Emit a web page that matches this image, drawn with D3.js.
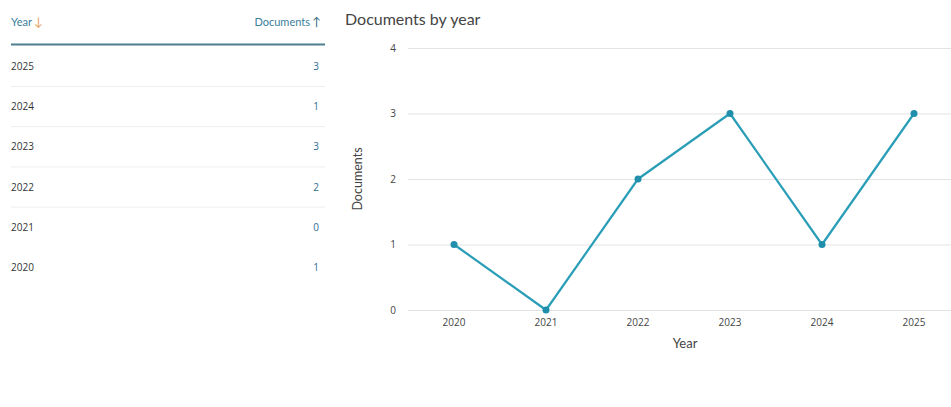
<!DOCTYPE html>
<html>
<head>
<meta charset="utf-8">
<script src="https://cdn.jsdelivr.net/npm/d3@7"></script>
<style>
  body { margin: 0; background: #fff; font-family: "Open Sans", sans-serif; }
  #wrap { position: relative; width: 951px; height: 407px; overflow: hidden; }
  svg { position: absolute; left: 0; top: 0; }
</style>
</head>
<body>
<div id="wrap"><svg id="chart" width="951" height="407"></svg></div>
<script>
// Data
const years = ["2020", "2021", "2022", "2023", "2024", "2025"];
const documents = [1, 0, 2, 3, 1, 3];
const yTicks = [0, 1, 2, 3, 4];

const svg = d3.select("#chart");

// 1. Table on the left (rows newest first)
const rows = years.map((y, i) => ({ year: y, docs: documents[i] })).reverse();
const table = svg.append("g");
const tLeft = 11, tRight = 325, rowY = d3.scalePoint().domain(rows.map(d => d.year)).range([66, 267]);

table.append("text").attr("x", tLeft).attr("y", 26)
    .attr("font-family", "Lato, sans-serif").attr("font-size", 11).attr("fill", "#3b7e9c")
    .text("Year").append("tspan").attr("fill", "#e4a05a").attr("font-size", 12).attr("dx", 2).text("↓");
table.append("text").attr("x", tRight - 4).attr("y", 26).attr("text-anchor", "end")
    .attr("font-family", "Lato, sans-serif").attr("font-size", 11).attr("fill", "#3b7e9c")
    .text("Documents").append("tspan").attr("font-size", 12).attr("dx", 2).attr("fill", "#35687e").text("↑");
table.append("line").attr("x1", tLeft).attr("x2", tRight).attr("y1", 44.5).attr("y2", 44.5)
    .attr("stroke", "#4f7f8f").attr("stroke-width", 2);

const row = table.selectAll(".row").data(rows).enter().append("g").attr("class", "row");
row.append("text").attr("x", tLeft).attr("y", d => rowY(d.year) + 4)
    .attr("font-size", 10).attr("fill", "#333").text(d => d.year);
row.append("text").attr("x", tRight - 6).attr("y", d => rowY(d.year) + 4).attr("text-anchor", "end")
    .attr("font-size", 10).attr("fill", "#2f6d93").text(d => d.docs);
row.filter((d, i) => i < rows.length - 2).append("line")
    .attr("x1", tLeft).attr("x2", tRight)
    .attr("y1", d => rowY(d.year) + 20.5).attr("y2", d => rowY(d.year) + 20.5)
    .attr("stroke", "#eeeeee");

// 2. Line chart
svg.append("text").attr("x", 345).attr("y", 25)
    .attr("font-family", "Lato, sans-serif").attr("font-size", 16).attr("fill", "#444")
    .text("Documents by year");

const x = d3.scaleBand().domain(years).range([408, 960]).padding(0);
const y = d3.scaleLinear().domain([0, 4]).range([310, 48]);

const yAxis = svg.append("g").attr("transform", "translate(408,0)")
    .call(d3.axisLeft(y).tickValues(yTicks).tickSize(-552).tickPadding(12).tickFormat(d3.format("d")));
yAxis.select(".domain").remove();
yAxis.selectAll(".tick line").attr("stroke", "#e3e3e3");
yAxis.selectAll(".tick text").attr("fill", "#444").attr("font-size", 10).attr("font-family", "Open Sans, sans-serif");

const xAxis = svg.append("g").attr("transform", "translate(0,310)")
    .call(d3.axisBottom(x).tickSize(0).tickPadding(9));
xAxis.select(".domain").remove();
xAxis.selectAll(".tick text").attr("fill", "#444").attr("font-size", 10).attr("font-family", "Open Sans, sans-serif");

svg.append("text").attr("x", 685).attr("y", 348).attr("text-anchor", "middle")
    .attr("font-family", "Lato, sans-serif").attr("font-size", 13).attr("fill", "#444").text("Year");
svg.append("text").attr("transform", "translate(362,179) rotate(-90)").attr("text-anchor", "middle")
    .attr("font-family", "Lato, sans-serif").attr("font-size", 12.5).attr("fill", "#444").text("Documents");

const pts = years.map((yr, i) => ({ yr, v: documents[i] }));
const line = d3.line().x(d => x(d.yr) + x.bandwidth() / 2).y(d => y(d.v));
svg.append("path").datum(pts).attr("d", line)
    .attr("fill", "none").attr("stroke", "#2a9db7").attr("stroke-width", 2.2).attr("stroke-linejoin", "round");
svg.selectAll(".dot").data(pts).enter().append("circle").attr("class", "dot")
    .attr("cx", d => x(d.yr) + x.bandwidth() / 2).attr("cy", d => y(d.v)).attr("r", 3.5)
    .attr("fill", "#1f8fab");
</script>
</body>
</html>
